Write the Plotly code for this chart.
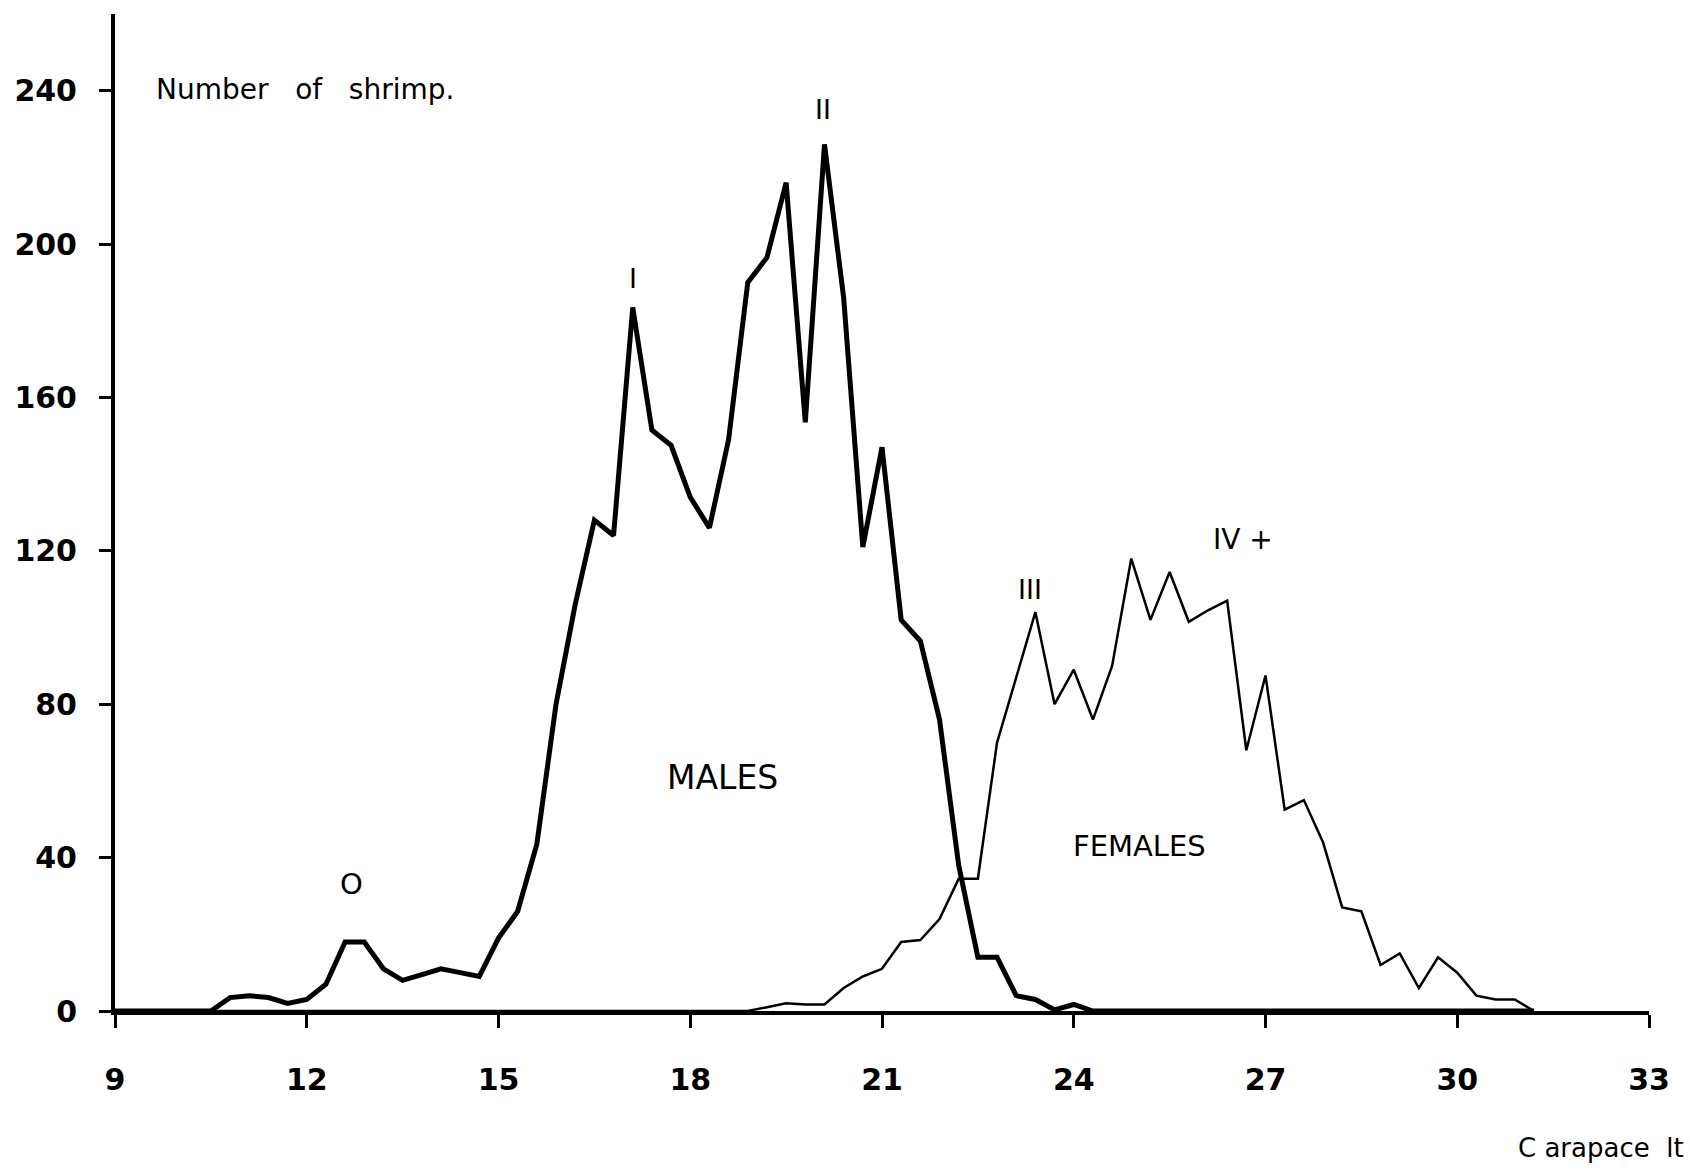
import plotly.graph_objects as go

# Carapace length classes (mm)
carapace_mm = [9.0, 9.3, 9.6, 9.9, 10.2, 10.5, 10.8, 11.1, 11.4, 11.7,
               12.0, 12.3, 12.6, 12.9, 13.2, 13.5, 13.8, 14.1, 14.4, 14.7,
               15.0, 15.3, 15.6, 15.9, 16.2, 16.5, 16.8, 17.1, 17.4, 17.7,
               18.0, 18.3, 18.6, 18.9, 19.2, 19.5, 19.8, 20.1, 20.4, 20.7,
               21.0, 21.3, 21.6, 21.9, 22.2, 22.5, 22.8, 23.1, 23.4, 23.7,
               24.0, 24.3, 24.6, 24.9, 25.2, 25.5, 25.8, 26.1, 26.4, 26.7,
               27.0, 27.3, 27.6, 27.9, 28.2, 28.5, 28.8, 29.1, 29.4, 29.7,
               30.0, 30.3, 30.6, 30.9, 31.2]

males = [0, 0, 0, 0, 0, 0, 3.5, 4, 3.5, 2,
         3, 7, 18, 18, 11, 8, 9.5, 11, 10, 9,
         19, 26, 43.5, 80, 106, 128, 124, 183.5, 151.5, 147.5,
         134, 126, 149, 190, 196.5, 216, 153.5, 226, 186, 121,
         147, 102, 96.5, 76, 38, 14, 14, 4, 3, 0.3,
         1.7, 0, 0, 0, 0, 0, 0, 0, 0, 0,
         0, 0, 0, 0, 0, 0, 0, 0, 0, 0,
         0, 0, 0, 0, 0]

females = [0, 0, 0, 0, 0, 0, 0, 0, 0, 0,
           0, 0, 0, 0, 0, 0, 0, 0, 0, 0,
           0, 0, 0, 0, 0, 0, 0, 0, 0, 0,
           0, 0, 0, 0, 1, 2, 1.7, 1.7, 6, 9,
           11, 18, 18.5, 24, 34.5, 34.5, 70, 87, 104, 80,
           89, 76, 90, 118, 102, 114.5, 101.5, 104.5, 107, 68,
           87.5, 52.5, 55, 44, 27, 26, 12, 15, 6, 14,
           10, 4, 3, 3, 0]

x_ticks = [9, 12, 15, 18, 21, 24, 27, 30, 33]
y_ticks = [0, 40, 80, 120, 160, 200, 240]

# Labels placed on the chart: (text, x, y, size)
peak_labels = [("O", 12.70, 33, 29),
               ("I", 17.10, 191, 27),
               ("II", 20.08, 235, 27),
               ("III", 23.31, 110, 27),
               ("IV +", 26.65, 123, 28),
               ("MALES", 18.5, 61, 33),
               ("FEMALES", 25.03, 43, 29)]

FONT = "DejaVu Sans"
NB = "\u00a0"

fig = go.Figure()
fig.add_trace(go.Scatter(x=carapace_mm, y=females, mode="lines",
                         line=dict(color="black", width=2.5),
                         name="Females", hoverinfo="skip"))
fig.add_trace(go.Scatter(x=carapace_mm, y=males, mode="lines",
                         line=dict(color="black", width=5),
                         name="Males", hoverinfo="skip"))

for text, x, y, size in peak_labels:
    fig.add_annotation(x=x, y=y, xref="x", yref="y", text=text,
                       showarrow=False,
                       font=dict(family=FONT, size=size, color="black"))

fig.add_annotation(x=9.61, y=240.3, xref="x", yref="y",
                   text="Number" + NB * 3 + "of" + NB * 3 + "shrimp.",
                   xanchor="left", showarrow=False,
                   font=dict(family=FONT, size=28, color="black"))

fig.add_annotation(x=(1686 - 115) / 1533.6, y=(1011.5 - 1149) / 997.8,
                   xref="paper", yref="paper",
                   text="C" + NB + "arapace" + NB * 2 + "lt",
                   xanchor="right", yanchor="middle", showarrow=False,
                   font=dict(family=FONT, size=26, color="black"))

fig.update_layout(
    width=1690, height=1172,
    margin=dict(l=115, r=41.4, t=13.7, b=160.5),
    paper_bgcolor="white", plot_bgcolor="white",
    showlegend=False,
    xaxis=dict(range=[9, 33], tickvals=x_ticks,
               ticktext=[str(v) for v in x_ticks],
               showgrid=False, zeroline=False,
               showline=True, linecolor="black", linewidth=4,
               ticks="outside", ticklen=13, tickwidth=3, tickcolor="black",
               ticklabelstandoff=26,
               tickfont=dict(family=FONT, size=30, color="black", weight="bold")),
    yaxis=dict(range=[0, 260], tickvals=y_ticks,
               ticktext=[str(v) for v in y_ticks],
               showgrid=False, zeroline=False,
               showline=True, linecolor="black", linewidth=4,
               ticks="outside", ticklen=12, tickwidth=3, tickcolor="black",
               ticklabelstandoff=16,
               tickfont=dict(family=FONT, size=30, color="black", weight="bold")),
)

fig.write_html("out.html")
